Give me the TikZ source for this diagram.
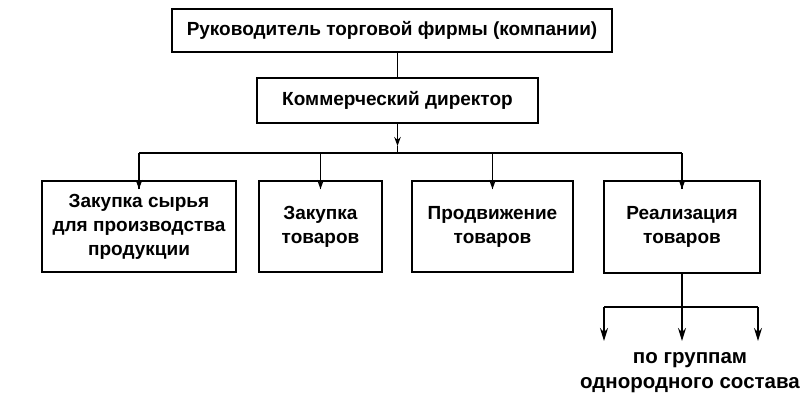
\documentclass[tikz,border=0pt]{standalone}
\usepackage{fontspec}
\setmainfont{Liberation Sans}
\usetikzlibrary{arrows.meta}
\begin{document}
\begin{tikzpicture}[x=1pt,y=-1pt,
  box/.style={draw,line width=1.8pt,inner sep=0pt,align=center,font=\fontsize{19}{24}\selectfont\bfseries},
  con/.style={line width=1.6pt},
  tip/.style={con,-{Stealth[length=9pt,width=6.5pt]}},
  bigtip/.style={con,-{Stealth[length=13pt,width=8pt]}}]
\useasboundingbox (0,0) rectangle (804,404);
\node[box,minimum width=440pt,minimum height=43pt] (top) at (392,30.5) {Руководитель торговой фирмы (компании)};
\node[box,minimum width=281pt,minimum height=45pt] (dir) at (397.5,100.5) {Коммерческий директор};
\node[box,minimum width=194pt,minimum height=91pt] (b1) at (139,226.5) {Закупка сырья\\для производства\\продукции};
\node[box,minimum width=123pt,minimum height=91pt] (b2) at (320.5,226.5) {Закупка\\товаров};
\node[box,minimum width=161pt,minimum height=91pt] (b3) at (492.5,226.5) {Продвижение\\товаров};
\node[box,minimum width=156pt,minimum height=92pt] (b4) at (682,227) {Реализация\\товаров};
\node[align=center,font=\fontsize{20.5}{25}\selectfont\bfseries] (grp) at (690,373) {по группам\\однородного состава};
% top to director
\draw[con] (dir.north) -- (dir.north |- top.south);
% director to bus
\coordinate (bus) at (397.5,153);
\coordinate (da) at (397.5,146);
\draw[tip] (dir.south) -- (da);
\draw[con] (da) -- (bus);
\coordinate (busL) at (b1.north |- bus);
\coordinate (busR) at (b4.north |- bus);
\draw[con] (busL) -- (busR);
\foreach \b in {b1,b2,b3,b4}{
  \coordinate (\b a) at ([yshift=-9pt]\b.north);
  \draw[tip] (\b.north |- bus) -- (\b a);
  \draw[con] (\b a) -- (\b.north);
}
% bottom
\coordinate (lb) at (b4.south |- 0,307);
\draw[con] (b4.south) -- (lb);
\coordinate (lbL) at (604,307);
\coordinate (lbR) at (758,307);
\draw[con] (lbL) -- (lbR);
\draw[bigtip] (lbL) -- (604,341);
\draw[bigtip] (lb) -- (lb |- 0,341);
\draw[bigtip] (lbR) -- (758,341);
\end{tikzpicture}
\end{document}
